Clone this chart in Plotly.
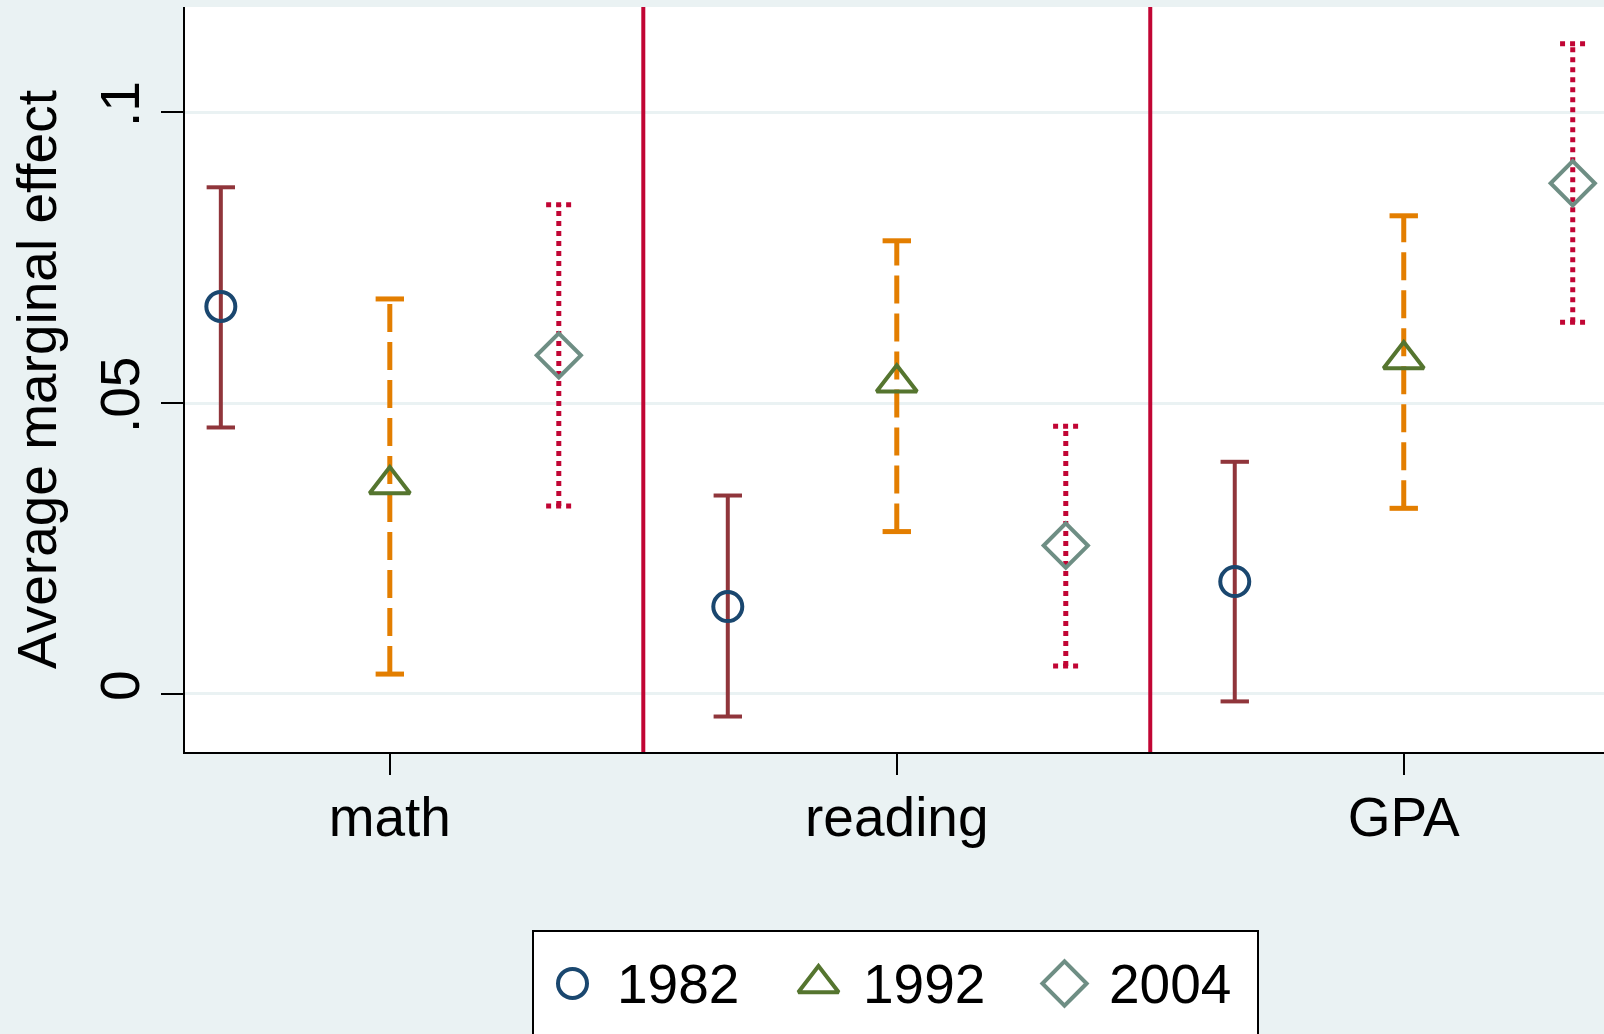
import plotly.graph_objects as go

# ---------------------------------------------------------------------------
# Data
# ---------------------------------------------------------------------------
CATEGORIES = ["math", "reading", "GPA"]
YEARS = ["1982", "1992", "2004"]

EST_1982 = [0.0666, 0.0150, 0.0193]
LO_1982 = [0.0458, -0.0039, -0.0013]
HI_1982 = [0.0871, 0.0341, 0.0399]

EST_1992 = [0.0360, 0.0535, 0.0575]
LO_1992 = [0.0034, 0.0279, 0.0319]
HI_1992 = [0.0679, 0.0779, 0.0822]

EST_2004 = [0.0582, 0.0255, 0.0878]
LO_2004 = [0.0323, 0.0048, 0.0639]
HI_2004 = [0.0841, 0.0460, 0.1118]

Y_TICKS = [0, 0.05, 0.1]
Y_TICK_TEXT = ["0", ".05", ".1"]

# ---------------------------------------------------------------------------
# Styling (Stata s2color look)
# ---------------------------------------------------------------------------
FONT = "Liberation Sans, Arial, sans-serif"
BG = "#eaf2f3"
SEP_COLOR = "#c10534"
W, H = 1604, 1034

SERIES = {
    "1982": dict(est=EST_1982, lo=LO_1982, hi=HI_1982, offset=-1 / 3,
                 symbol="circle-open", msize=29, mcolor="#1a476f",
                 ci_color="#90353b", ci_width=4, ci_dash="solid",
                 cap_half=0.028, cap_dash="solid"),
    "1992": dict(est=EST_1992, lo=LO_1992, hi=HI_1992, offset=0.0,
                 symbol="triangle-up-open", msize=35, mcolor="#55752f",
                 ci_color="#e37e00", ci_width=5, ci_dash="28px,10px",
                 cap_half=0.028, cap_dash="solid"),
    "2004": dict(est=EST_2004, lo=LO_2004, hi=HI_2004, offset=1 / 3,
                 symbol="diamond-open", msize=34, mcolor="#6e8e84",
                 ci_color="#c10534", ci_width=5, ci_dash="5px,5px",
                 cap_half=0.025, cap_dash="5px,5px"),
}


def px_domain(a, b, total):
    return [a / total, b / total]


fig = go.Figure()

# confidence intervals: stems + caps
for year in YEARS:
    s = SERIES[year]
    xs = [i + 1 + s["offset"] for i in range(len(CATEGORIES))]
    stem_x, stem_y, cap_x, cap_y = [], [], [], []
    for x, lo, hi in zip(xs, s["lo"], s["hi"]):
        stem_x += [x, x, None]
        stem_y += [lo, hi, None]
        for v in (lo, hi):
            cap_x += [x - s["cap_half"], x + s["cap_half"], None]
            cap_y += [v, v, None]
    line = dict(color=s["ci_color"], width=s["ci_width"])
    fig.add_trace(go.Scatter(
        x=stem_x, y=stem_y, mode="lines", showlegend=False, hoverinfo="skip",
        line=dict(line, dash=s["ci_dash"]),
    ))
    fig.add_trace(go.Scatter(
        x=cap_x, y=cap_y, mode="lines", showlegend=False, hoverinfo="skip",
        line=dict(line, dash=s["cap_dash"]),
    ))

# point estimates
for year in YEARS:
    s = SERIES[year]
    fig.add_trace(go.Scatter(
        x=[i + 1 + s["offset"] for i in range(len(CATEGORIES))],
        y=s["est"],
        mode="markers",
        name=year,
        showlegend=False,
        marker=dict(symbol=s["symbol"], size=s["msize"], color=s["mcolor"],
                    line=dict(width=4, color=s["mcolor"])),
    ))

# legend drawn on its own small axis pair (Stata-style boxed key)
fig.add_trace(go.Scatter(
    x=list(range(len(YEARS))),
    y=[0] * len(YEARS),
    xaxis="x2", yaxis="y2",
    mode="markers",
    showlegend=False,
    hoverinfo="skip",
    marker=dict(
        symbol=[SERIES[y]["symbol"] for y in YEARS],
        size=[SERIES[y]["msize"] for y in YEARS],
        color=[SERIES[y]["mcolor"] for y in YEARS],
        opacity=1,
        line=dict(width=4, color=[SERIES[y]["mcolor"] for y in YEARS]),
    ),
))
for i, year in enumerate(YEARS):
    fig.add_annotation(
        x=i, y=0, xref="x2", yref="y2", text=year, showarrow=False,
        xanchor="left", yanchor="middle", xshift=42,
        font=dict(size=55, color="black", family=FONT),
    )
fig.add_shape(
    type="rect", xref="x2 domain", yref="y2 domain",
    x0=0, x1=1, y0=-0.2, y1=1,
    line=dict(color="black", width=2), fillcolor="white", layer="below",
)

# separators between the outcome groups
for sep in [1.5, 2.5]:
    fig.add_vline(x=sep, line_color=SEP_COLOR, line_width=4, layer="above")

fig.update_layout(
    width=W,
    height=H,
    paper_bgcolor=BG,
    plot_bgcolor="white",
    font=dict(family=FONT, size=55, color="black"),
    margin=dict(l=0, r=0, t=0, b=0),
    showlegend=False,
    xaxis=dict(
        domain=px_domain(185, W, W),
        range=[0.596, 3.395],
        tickvals=[1, 2, 3],
        ticktext=CATEGORIES,
        showgrid=False,
        zeroline=False,
        showline=True, linecolor="black", linewidth=2,
        ticks="outside", ticklen=21, tickwidth=2, tickcolor="black",
        ticklabelstandoff=-5,
        automargin=False,
    ),
    yaxis=dict(
        domain=px_domain(H - 752, H - 7, H),
        range=[-0.01, 0.1181],
        tickvals=Y_TICKS,
        ticktext=Y_TICK_TEXT,
        tickangle=-90,
        showgrid=True, gridcolor=BG, gridwidth=3,
        zeroline=False,
        showline=True, linecolor="black", linewidth=2,
        ticks="outside", ticklen=22, tickwidth=2, tickcolor="black",
        title=dict(text="Average marginal effect", standoff=15,
                   font=dict(size=55, family=FONT, color="black")),
        automargin=False,
    ),
    xaxis2=dict(
        domain=px_domain(533, 1258, W),
        range=[-0.1606, 2.7866],
        anchor="y2", visible=False, fixedrange=True,
    ),
    yaxis2=dict(
        domain=px_domain(0, H - 931, H),
        range=[-0.49, 0.51],
        anchor="x2", visible=False, fixedrange=True,
    ),
)

fig.write_html(
    "out.html",
    config={"displayModeBar": False},
    post_script="document.body.style.margin='0';",
)
